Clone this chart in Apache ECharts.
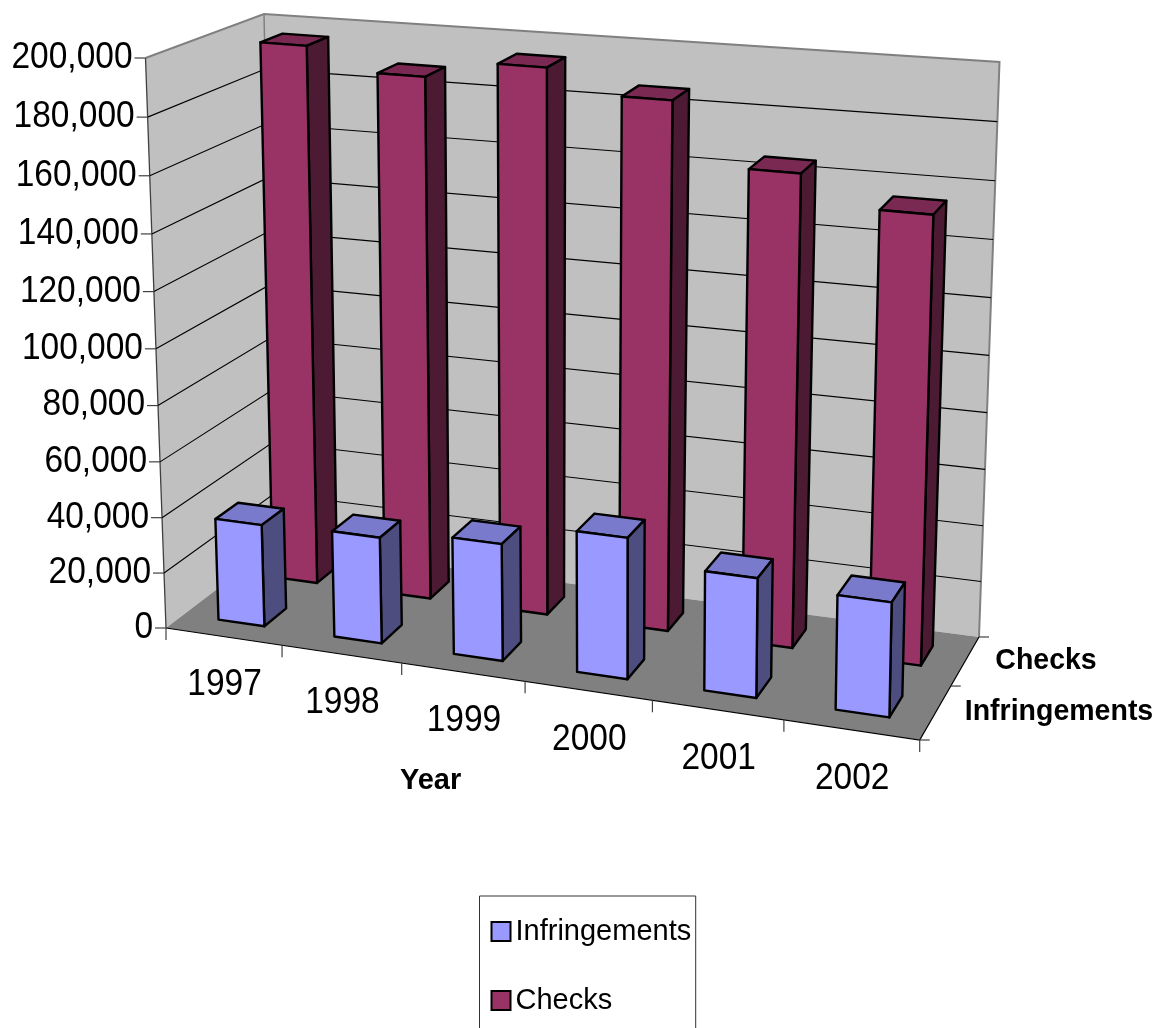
<!DOCTYPE html>
<html>
<head>
<meta charset="utf-8">
<style>html,body{margin:0;padding:0;background:#fff}#chart{width:1158px;height:1028px}</style>
<script src="https://cdn.jsdelivr.net/npm/echarts@6/dist/echarts.min.js"></script>
</head>
<body>
<div id="chart"></div>
<script>
// Yearly roadside figures, drawn as a two-row column chart in a perspective box.
const years = ['1997', '1998', '1999', '2000', '2001', '2002'];
const infringements = [36800, 38000, 41500, 49500, 41500, 39400];
const checks = [196000, 188300, 194700, 186800, 165600, 155600];
const valueTicks = [0, 20000, 40000, 60000, 80000, 100000, 120000, 140000, 160000, 180000, 200000];
const depthRows = ['Infringements', 'Checks'];

// Screen corners of the box: [x, y] keyed by front/back, left/right, bottom/top.
const box = {
  flb: [166, 628], frb: [919.7, 740], blb: [275, 545], brb: [979, 637],
  flt: [145.5, 58], frt: [932, 128], blt: [264, 14], brt: [999.5, 62]
};
// Foreshortening along width, depth and height.
const foreshorten = { u: 0.91, v: 1.1, w: 0.96 };
const barShare = 0.4;
const barShift = 0.001;
const FONT = '"Liberation Sans", Arial, sans-serif';
const mix = (p, q, k) => [p[0] + (q[0] - p[0]) * k, p[1] + (q[1] - p[1]) * k];
const warp = (x, f) => f * x / (1 + (f - 1) * x);

function project(u, v, w) {
  const s = warp(u, foreshorten.u), t = warp(v, foreshorten.v), r = warp(w, foreshorten.w);
  const bottom = mix(mix(box.flb, box.frb, s), mix(box.blb, box.brb, s), t);
  const top = mix(mix(box.flt, box.frt, s), mix(box.blt, box.brt, s), t);
  return mix(bottom, top, r);
}

// Normalised width/height positions come from the chart's own category and value axes.
function axisPos(params, api, cat, val) {
  const c = api.coord([cat, val]);
  const g = params.coordSys;
  return { u: (c[0] - g.x) / g.width, w: 1 - (c[1] - g.y) / g.height, band: api.size([1, 0])[0] / g.width };
}

const poly = (pts, fill, stroke, lw) => ({
  type: 'polygon', shape: { points: pts },
  style: { fill: fill, stroke: stroke || null, lineWidth: lw || 0, lineJoin: 'round' }
});
const line = (pts, stroke, lw) => ({
  type: 'polyline', shape: { points: pts },
  style: { fill: null, stroke: stroke, lineWidth: lw }, silent: true
});
// Text is set large and squeezed a little horizontally, which tightens the glyphs.
const label = (text, x, y, size, bold, align, squeeze) => ({
  type: 'text', x: x, y: y, scaleX: squeeze || 1,
  style: {
    text: text, x: 0, y: 0, align: align || 'center', verticalAlign: 'middle',
    fontFamily: FONT, fontSize: size, fontWeight: bold ? 'bold' : 'normal', fill: '#000'
  }
});

function renderFrame() {
  const P = project;
  return {
    type: 'group',
    children: [
      poly([P(0, 0, 0), P(0, 1, 0), P(0, 1, 1), P(0, 0, 1)], '#c0c0c0'),
      poly([P(0, 1, 0), P(1, 1, 0), P(1, 1, 1), P(0, 1, 1)], '#c0c0c0'),
      poly([P(0, 0, 0), P(1, 0, 0), P(1, 1, 0), P(0, 1, 0)], '#808080'),
      line([P(0, 0, 1), P(0, 1, 1), P(1, 1, 1), P(1, 1, 0)], '#808080', 2),
      line([P(0, 1, 0), P(0, 1, 1)], '#808080', 1.5),
      line([P(0, 0, 0), P(0, 0, 1)], '#404040', 1.3),
      line([P(0, 0, 0), P(1, 0, 0), P(1, 1, 0)], '#000', 1.2)
    ]
  };
}

function renderValueTick(params, api) {
  const val = api.value(1);
  const w = axisPos(params, api, 0, val).w;
  const a = project(0, 0, w), b = project(0, 1, w), c = project(1, 1, w);
  const text = val.toLocaleString('en-US');
  const kids = [
    line([[a[0] - 11, a[1]], a], '#404040', 1.2),
    label(text, a[0] - 13, a[1], 36, false, 'right', 0.93)
  ];
  if (val > 0 && val < 200000) {
    kids.unshift(line([a, b, c], '#000', 1.1));
  }
  return { type: 'group', children: kids };
}

function renderYear(params, api) {
  const idx = api.value(0);
  const p = axisPos(params, api, idx, 0);
  const lo = p.u - p.band / 2, hi = p.u + p.band / 2;
  const mid = project(p.u, 0, 0);
  const kids = [label(years[idx], mid[0] + 1, mid[1] + 49, 36, false, 'center', 0.93)];
  const tick = (q) => line([q, [q[0], q[1] + 12]], '#404040', 1.2);
  kids.push(tick(project(hi, 0, 0)));
  if (idx === 0) kids.push(tick(project(lo, 0, 0)));
  return { type: 'group', children: kids };
}

function renderDepth(params, api) {
  const row = api.value(0);
  const p0 = project(1, row / 2, 0), p1 = project(1, (row + 1) / 2, 0);
  const kids = [line([p1, [p1[0] + 10, p1[1]]], '#404040', 1.2)];
  if (row === 0) kids.push(line([p0, [p0[0] + 10, p0[1]]], '#404040', 1.2));
  const places = [[1059, 712], [1046, 661]];
  kids.push(label(depthRows[row], places[row][0], places[row][1], 30, true, 'center', 0.95));
  return { type: 'group', children: kids };
}

// One box-shaped column; row picks the depth slot, colours are front/top/side.
function columnRenderer(row, front, top, side) {
  return function (params, api) {
    const p = axisPos(params, api, api.value(0), api.value(1));
    const half = p.band * barShare / 2;
    const u0 = p.u - half + barShift, u1 = p.u + half + barShift;
    const slot = 0.5;
    const v0 = (row + 0.3) * slot, v1 = (row + 0.7) * slot;
    const w = p.w, P = project;
    const edge = '#000';
    return {
      type: 'group',
      children: [
        poly([P(u0, v0, w), P(u1, v0, w), P(u1, v1, w), P(u0, v1, w)], top, edge, 2.4),
        poly([P(u1, v0, 0), P(u1, v1, 0), P(u1, v1, w), P(u1, v0, w)], side, edge, 2.4),
        poly([P(u0, v0, 0), P(u1, v0, 0), P(u1, v0, w), P(u0, v0, w)], front, edge, 2.4)
      ]
    };
  };
}

const chart = echarts.init(document.getElementById('chart'), null, { renderer: 'canvas' });
chart.setOption({
  animation: false,
  backgroundColor: '#ffffff',
  grid: { left: 0, right: 0, top: 0, bottom: 0 },
  xAxis: { type: 'category', data: years, show: false },
  yAxis: { type: 'value', min: 0, max: 200000, interval: 20000, show: false },
  title: {
    text: 'Year', left: 400, top: 766,
    textStyle: { fontFamily: FONT, fontSize: 29, fontWeight: 'bold', color: '#000' }, padding: 0
  },
  legend: {
    data: ['Infringements', 'Checks'],
    orient: 'vertical', left: 479.5, top: 896, icon: 'rect', height: 300,
    itemWidth: 19, itemHeight: 19, itemGap: 40,
    padding: [21, 4.5, 40, 11],
    borderColor: '#333', borderWidth: 1, backgroundColor: '#fff',
    selectedMode: false,
    itemStyle: { borderColor: '#000', borderWidth: 2 },
    textStyle: { fontFamily: FONT, fontSize: 29, color: '#000' }
  },
  series: [
    { type: 'custom', name: 'frame', z: 1, silent: true, renderItem: renderFrame, data: [[0, 0]] },
    { type: 'custom', name: 'values', z: 2, silent: true, renderItem: renderValueTick,
      data: valueTicks.map(v => [0, v]) },
    { type: 'custom', name: 'years', z: 2, silent: true, renderItem: renderYear,
      data: years.map((y, i) => [i, 0]) },
    { type: 'custom', name: 'rows', z: 2, silent: true, renderItem: renderDepth,
      data: depthRows.map((r, i) => [i, 0]) },
    { type: 'custom', name: 'Checks', z: 3, itemStyle: { color: '#993366' },
      renderItem: columnRenderer(1, '#993366', '#7a2952', '#4d1a33'),
      data: checks.map((v, i) => [i, v]) },
    { type: 'custom', name: 'Infringements', z: 4, itemStyle: { color: '#9999ff' },
      renderItem: columnRenderer(0, '#9999ff', '#7a7acc', '#4d4d80'),
      data: infringements.map((v, i) => [i, v]) }
  ]
});
</script>
</body>
</html>
